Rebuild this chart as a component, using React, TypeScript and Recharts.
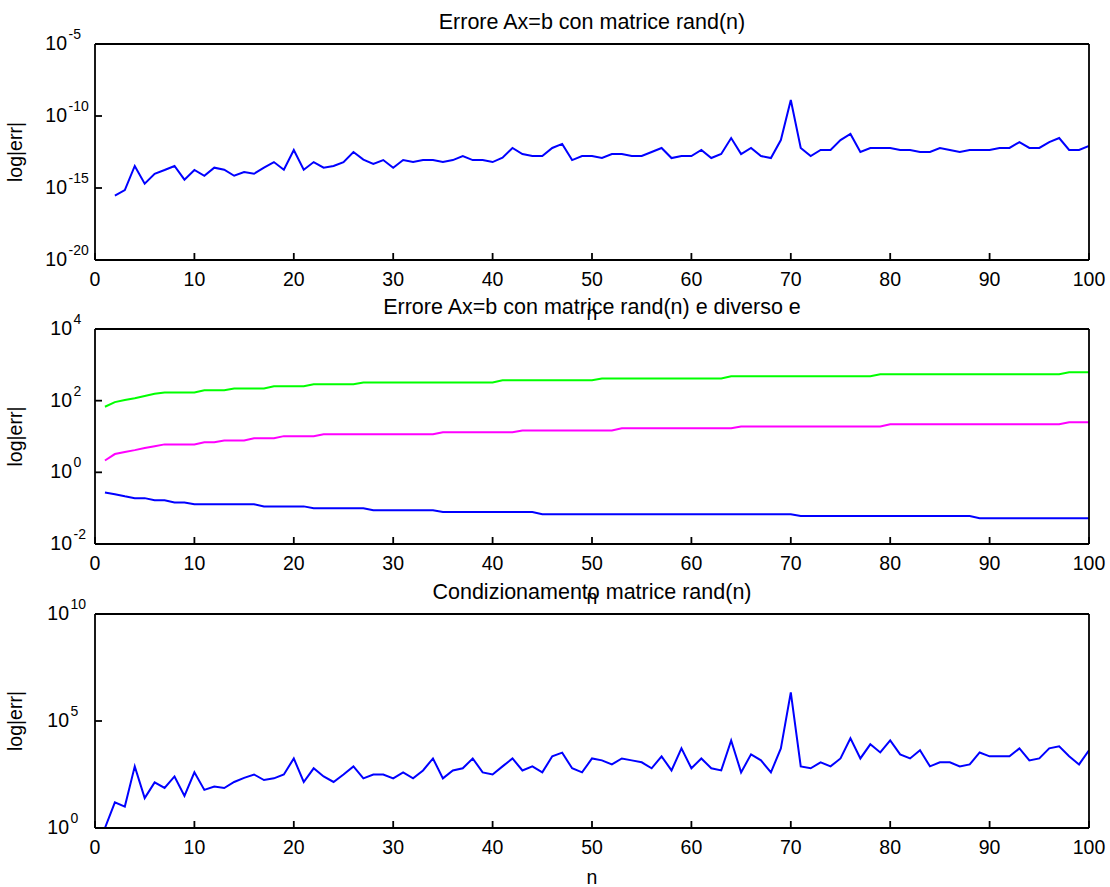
import React from 'react';
import { LineChart, Line, XAxis, YAxis } from 'recharts';

// n values (x categories)
const nAll: number[] = Array.from({ length: 100 }, (_, i) => i + 1);
const nTop: number[] = nAll.slice(1); // n = 2..100

// log10 of |err| for Ax=b with rand(n), n = 2..100
const errTopLog10: number[] = [
  -15.53, -15.14, -13.47, -14.70, -14.01, -13.75, -13.47, -14.42, -13.75,
  -14.15, -13.59, -13.73, -14.15, -13.89, -14.01, -13.59, -13.20, -13.73, -12.36,
  -13.73, -13.20, -13.59, -13.47, -13.20, -12.50, -13.03, -13.33, -13.06, -13.59,
  -13.06, -13.20, -13.06, -13.06, -13.20, -13.06, -12.78, -13.06, -13.06, -13.20,
  -12.90, -12.22, -12.64, -12.78, -12.78, -12.22, -11.94, -13.06, -12.78, -12.78,
  -12.92, -12.64, -12.64, -12.78, -12.78, -12.50, -12.22, -12.92, -12.78, -12.78,
  -12.36, -12.92, -12.64, -11.53, -12.64, -12.22, -12.78, -12.92, -11.67, -8.89,
  -12.22, -12.78, -12.36, -12.36, -11.67, -11.25, -12.50, -12.22, -12.22, -12.22,
  -12.36, -12.36, -12.50, -12.50, -12.22, -12.36, -12.50, -12.36, -12.36, -12.36,
  -12.22, -12.22, -11.81, -12.22, -12.22, -11.81, -11.53, -12.36, -12.36, -12.08,
];

// log10 of |err| with different e, n = 1..100
const errGreenLog10: number[] = [
  1.83, 1.96, 2.02, 2.07, 2.13, 2.19, 2.23, 2.23, 2.23, 2.23,
  2.29, 2.29, 2.29, 2.34, 2.34, 2.34, 2.34, 2.40, 2.40, 2.40,
  2.40, 2.46, 2.46, 2.46, 2.46, 2.46, 2.51, 2.51, 2.51, 2.51,
  2.51, 2.51, 2.51, 2.51, 2.51, 2.51, 2.51, 2.51, 2.51, 2.51,
  2.57, 2.57, 2.57, 2.57, 2.57, 2.57, 2.57, 2.57, 2.57, 2.57,
  2.62, 2.62, 2.62, 2.62, 2.62, 2.62, 2.62, 2.62, 2.62, 2.62,
  2.62, 2.62, 2.62, 2.68, 2.68, 2.68, 2.68, 2.68, 2.68, 2.68,
  2.68, 2.68, 2.68, 2.68, 2.68, 2.68, 2.68, 2.68, 2.74, 2.74,
  2.74, 2.74, 2.74, 2.74, 2.74, 2.74, 2.74, 2.74, 2.74, 2.74,
  2.74, 2.74, 2.74, 2.74, 2.74, 2.74, 2.74, 2.79, 2.79, 2.79,
];
const errMagentaLog10: number[] = [
  0.33, 0.51, 0.57, 0.62, 0.68, 0.73, 0.78, 0.78, 0.78, 0.78,
  0.84, 0.84, 0.89, 0.89, 0.89, 0.95, 0.95, 0.95, 1.01, 1.01,
  1.01, 1.01, 1.06, 1.06, 1.06, 1.06, 1.06, 1.06, 1.06, 1.06,
  1.06, 1.06, 1.06, 1.06, 1.12, 1.12, 1.12, 1.12, 1.12, 1.12,
  1.12, 1.12, 1.17, 1.17, 1.17, 1.17, 1.17, 1.17, 1.17, 1.17,
  1.17, 1.17, 1.23, 1.23, 1.23, 1.23, 1.23, 1.23, 1.23, 1.23,
  1.23, 1.23, 1.23, 1.23, 1.28, 1.28, 1.28, 1.28, 1.28, 1.28,
  1.28, 1.28, 1.28, 1.28, 1.28, 1.28, 1.28, 1.28, 1.28, 1.34,
  1.34, 1.34, 1.34, 1.34, 1.34, 1.34, 1.34, 1.34, 1.34, 1.34,
  1.34, 1.34, 1.34, 1.34, 1.34, 1.34, 1.34, 1.40, 1.40, 1.40,
];
const errBlueLog10: number[] = [
  -0.56, -0.61, -0.67, -0.72, -0.72, -0.78, -0.78, -0.84, -0.84, -0.89,
  -0.89, -0.89, -0.89, -0.89, -0.89, -0.89, -0.95, -0.95, -0.95, -0.95,
  -0.95, -1.00, -1.00, -1.00, -1.00, -1.00, -1.00, -1.06, -1.06, -1.06,
  -1.06, -1.06, -1.06, -1.06, -1.11, -1.11, -1.11, -1.11, -1.11, -1.11,
  -1.11, -1.11, -1.11, -1.11, -1.17, -1.17, -1.17, -1.17, -1.17, -1.17,
  -1.17, -1.17, -1.17, -1.17, -1.17, -1.17, -1.17, -1.17, -1.17, -1.17,
  -1.17, -1.17, -1.17, -1.17, -1.17, -1.17, -1.17, -1.17, -1.17, -1.17,
  -1.22, -1.22, -1.22, -1.22, -1.22, -1.22, -1.22, -1.22, -1.22, -1.22,
  -1.22, -1.22, -1.22, -1.22, -1.22, -1.22, -1.22, -1.22, -1.28, -1.28,
  -1.28, -1.28, -1.28, -1.28, -1.28, -1.28, -1.28, -1.28, -1.28, -1.28,
];

// log10 of cond(rand(n)), n = 1..100
const condLog10: number[] = [
  0.00, 1.20, 1.00, 2.88, 1.40, 2.13, 1.87, 2.41, 1.50, 2.60,
  1.78, 1.94, 1.87, 2.15, 2.34, 2.50, 2.24, 2.32, 2.50, 3.25,
  2.15, 2.79, 2.41, 2.15, 2.50, 2.88, 2.32, 2.50, 2.50, 2.32,
  2.60, 2.32, 2.69, 3.25, 2.32, 2.69, 2.79, 3.25, 2.60, 2.50,
  2.88, 3.25, 2.69, 2.88, 2.60, 3.35, 3.52, 2.79, 2.60, 3.25,
  3.16, 2.97, 3.25, 3.16, 3.07, 2.79, 3.35, 2.69, 3.72, 2.79,
  3.25, 2.79, 2.69, 4.09, 2.60, 3.44, 3.16, 2.60, 3.72, 6.34,
  2.88, 2.79, 3.07, 2.88, 3.25, 4.19, 3.25, 3.91, 3.53, 4.09,
  3.44, 3.25, 3.63, 2.88, 3.07, 3.07, 2.88, 2.97, 3.53, 3.35,
  3.35, 3.35, 3.72, 3.16, 3.25, 3.72, 3.82, 3.35, 2.97, 3.63,
];

const xTicks: number[] = [0, 10, 20, 30, 40, 50, 60, 70, 80, 90, 100];
const yTicksTop: number[] = [1e-20, 1e-15, 1e-10, 1e-5];
const yTicksMid: number[] = [1e-2, 1, 1e2, 1e4];
const yTicksBot: number[] = [1, 1e5, 1e10];

const titleTop = 'Errore Ax=b con matrice rand(n)';
const titleMid = 'Errore Ax=b con matrice rand(n) e diverso e';
const titleBot = 'Condizionamento matrice rand(n)';
const yLabel = 'log|err|';
const xLabel = 'n';

const dataTop = nTop.map((n, i) => ({ n, err: Math.pow(10, errTopLog10[i]) }));
const dataMid = nAll.map((n, i) => ({
  n,
  g: Math.pow(10, errGreenLog10[i]),
  m: Math.pow(10, errMagentaLog10[i]),
  b: Math.pow(10, errBlueLog10[i]),
}));
const dataBot = nAll.map((n, i) => ({ n, c: Math.pow(10, condLog10[i]) }));

const FONT = '"Liberation Sans", Arial, Helvetica, sans-serif';
const W = 1110;
const H = 887;
const PLOT_L = 95;
const PLOT_R = 1089;

const XTick = (props: any) => {
  const { x, payload, baseY } = props;
  return (
    <text x={x} y={baseY} textAnchor="middle" fontSize={19.5} fontFamily={FONT} fill="#000">
      {payload.value}
    </text>
  );
};

const YTick = (props: any) => {
  const { y, payload, baseX } = props;
  const e = Math.round(Math.log10(payload.value));
  return (
    <g>
      <text x={baseX} y={y + 6} textAnchor="end" fontSize={19.5} fontFamily={FONT} fill="#000">
        10
      </text>
      <text x={baseX + 1.5} y={y - 5} textAnchor="start" fontSize={14} fontFamily={FONT} fill="#000">
        {String(e)}
      </text>
    </g>
  );
};

const axisCommon = {
  stroke: '#000',
  strokeWidth: 1.8,
};

function Panel(props: {
  top: number;
  bottom: number;
  data: any[];
  yDomain: [number, number];
  yTicks: number[];
  tickBaseX: number;
  children: React.ReactNode;
}) {
  const { top, bottom, data, yDomain, yTicks, tickBaseX, children } = props;
  // axes take 1px each side, so margins are reduced by 1
  return (
    <div style={{ position: 'absolute', left: 0, top: 0 }}>
      <LineChart
        width={W}
        height={H}
        data={data}
        margin={{ top: top - 1, bottom: H - bottom - 1, left: PLOT_L - 1, right: W - PLOT_R - 1 }}
      >
        <XAxis
          xAxisId="b"
          dataKey="n"
          type="number"
          domain={[0, 100]}
          ticks={xTicks}
          interval={0}
          height={1}
          tickSize={-7}
          tickMargin={0}
          axisLine={axisCommon}
          tickLine={axisCommon}
          tick={<XTick baseY={bottom + 26} />}
          allowDataOverflow
        />
        <XAxis
          xAxisId="t"
          orientation="top"
          type="number"
          domain={[0, 100]}
          ticks={xTicks}
          interval={0}
          height={1}
          tickSize={-7}
          axisLine={axisCommon}
          tickLine={axisCommon}
          tick={false}
          allowDataOverflow
        />
        <YAxis
          yAxisId="l"
          type="number"
          scale="log"
          domain={yDomain}
          ticks={yTicks}
          interval={0}
          width={1}
          tickSize={-7}
          tickMargin={0}
          axisLine={axisCommon}
          tickLine={axisCommon}
          tick={<YTick baseX={tickBaseX} />}
          allowDataOverflow
        />
        <YAxis
          yAxisId="r"
          orientation="right"
          type="number"
          scale="log"
          domain={yDomain}
          ticks={yTicks}
          interval={0}
          width={1}
          tickSize={-7}
          axisLine={axisCommon}
          tickLine={axisCommon}
          tick={false}
          allowDataOverflow
        />
        {children}
      </LineChart>
    </div>
  );
}

const lineProps = {
  xAxisId: 'b',
  yAxisId: 'l',
  type: 'linear' as const,
  dot: false,
  activeDot: false,
  strokeWidth: 2,
  isAnimationActive: false,
};

export default function App() {
  const cx = (PLOT_L + PLOT_R) / 2;
  const panels = [
    { top: 44, bottom: 260, title: titleTop, nY: 320 },
    { top: 329, bottom: 544, title: titleMid, nY: 604 },
    { top: 614, bottom: 828, title: titleBot, nY: 884 },
  ];
  return (
    <div style={{ position: 'absolute', left: 0, top: 0, width: W, height: H, background: '#fff', overflow: 'hidden' }}>
      <Panel top={44} bottom={260} data={dataTop} yDomain={[1e-20, 1e-5]} yTicks={yTicksTop} tickBaseX={67}>
        <Line {...lineProps} dataKey="err" stroke="#0000ff" />
      </Panel>
      <Panel top={329} bottom={544} data={dataMid} yDomain={[1e-2, 1e4]} yTicks={yTicksMid} tickBaseX={72}>
        <Line {...lineProps} dataKey="g" stroke="#00ff00" />
        <Line {...lineProps} dataKey="m" stroke="#ff00ff" />
        <Line {...lineProps} dataKey="b" stroke="#0000ff" />
      </Panel>
      <Panel top={614} bottom={828} data={dataBot} yDomain={[1, 1e10]} yTicks={yTicksBot} tickBaseX={69}>
        <Line {...lineProps} dataKey="c" stroke="#0000ff" />
      </Panel>
      <svg width={W} height={H} style={{ position: 'absolute', left: 0, top: 0, pointerEvents: 'none' }}>
        {panels.map((p, i) => (
          <g key={i}>
            <text x={cx} y={p.top - 15} textAnchor="middle" fontSize={21.5} fontFamily={FONT} fill="#000">
              {p.title}
            </text>
            <text
              x={22}
              y={(p.top + p.bottom) / 2}
              textAnchor="middle"
              fontSize={19.5}
              fontFamily={FONT}
              fill="#000"
              transform={`rotate(-90, 22, ${(p.top + p.bottom) / 2})`}
            >
              {yLabel}
            </text>
            <text x={cx} y={p.nY} textAnchor="middle" fontSize={19.5} fontFamily={FONT} fill="#000">
              {xLabel}
            </text>
          </g>
        ))}
      </svg>
    </div>
  );
}
